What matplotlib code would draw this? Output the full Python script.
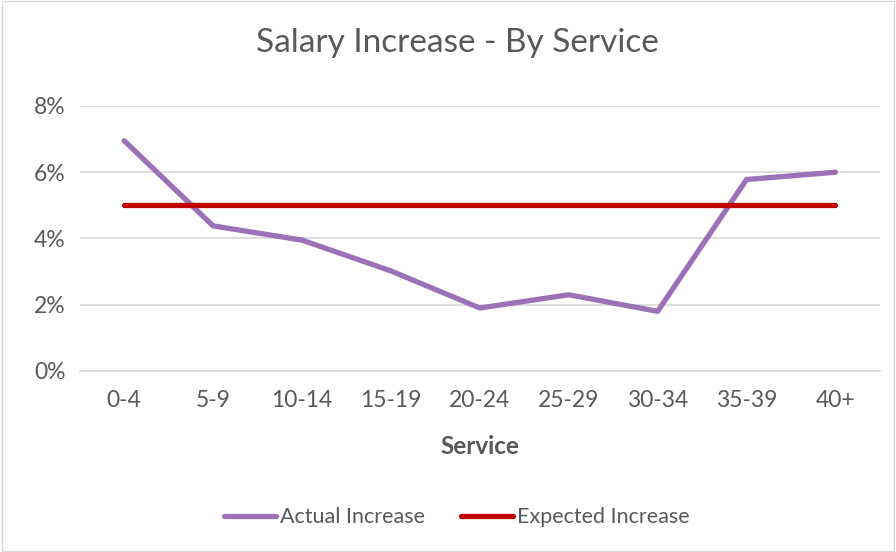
import matplotlib.pyplot as plt
from matplotlib.ticker import PercentFormatter
from matplotlib.patches import Rectangle

plt.rcParams['font.family'] = ['Lato', 'DejaVu Sans']

service = ['0-4', '5-9', '10-14', '15-19', '20-24', '25-29', '30-34', '35-39', '40+']
actual = [6.95, 4.38, 3.95, 3.02, 1.9, 2.3, 1.8, 5.78, 6.0]
expected = [5, 5, 5, 5, 5, 5, 5, 5, 5]

txt = '#595959'
purple = '#9b71b8'
red = '#c00000'

fig = plt.figure(figsize=(8.96, 5.52), dpi=100)
fig.patches.append(Rectangle((0.002, 0.002), 0.996, 0.996, transform=fig.transFigure,
                             fill=False, edgecolor='#d9d9d9', linewidth=1))
ax = fig.add_axes([0.089, 0.328, 0.893, 0.48])

x = range(len(service))
ax.plot(x, actual, color=purple, lw=3.8, solid_capstyle='round', solid_joinstyle='round',
        label='Actual Increase', zorder=3)
ax.plot(x, expected, color=red, lw=3.8, solid_capstyle='round', label='Expected Increase', zorder=3)

ax.set_xlim(-0.5, len(service) - 0.5)
ax.set_ylim(0, 8)
ax.set_yticks([0, 2, 4, 6, 8])
ax.yaxis.set_major_formatter(PercentFormatter(decimals=0))
ax.set_xticks(list(x))
ax.set_xticklabels(service)
ax.grid(axis='y', color='#d9d9d9', lw=1.2)
ax.set_axisbelow(True)
for s in ['top', 'right', 'left']:
    ax.spines[s].set_visible(False)
ax.spines['bottom'].set_color('#d9d9d9')
ax.spines['bottom'].set_linewidth(1.2)
ax.tick_params(length=0, labelsize=16.5, colors=txt, pad=14)
ax.tick_params(axis='y', pad=10)
ax.set_xlabel('Service', fontsize=17.5, fontweight='bold', color=txt, labelpad=17)

fig.suptitle('Salary Increase - By Service', fontsize=24, color=txt, x=0.51, y=0.95)

fig.legend(loc='center', bbox_to_anchor=(0.51, 0.063), ncol=2, frameon=False,
           fontsize=15.5, labelcolor=txt, handlelength=2.4, handletextpad=0.2, columnspacing=1.7)

fig.savefig('out.png', dpi=100)
